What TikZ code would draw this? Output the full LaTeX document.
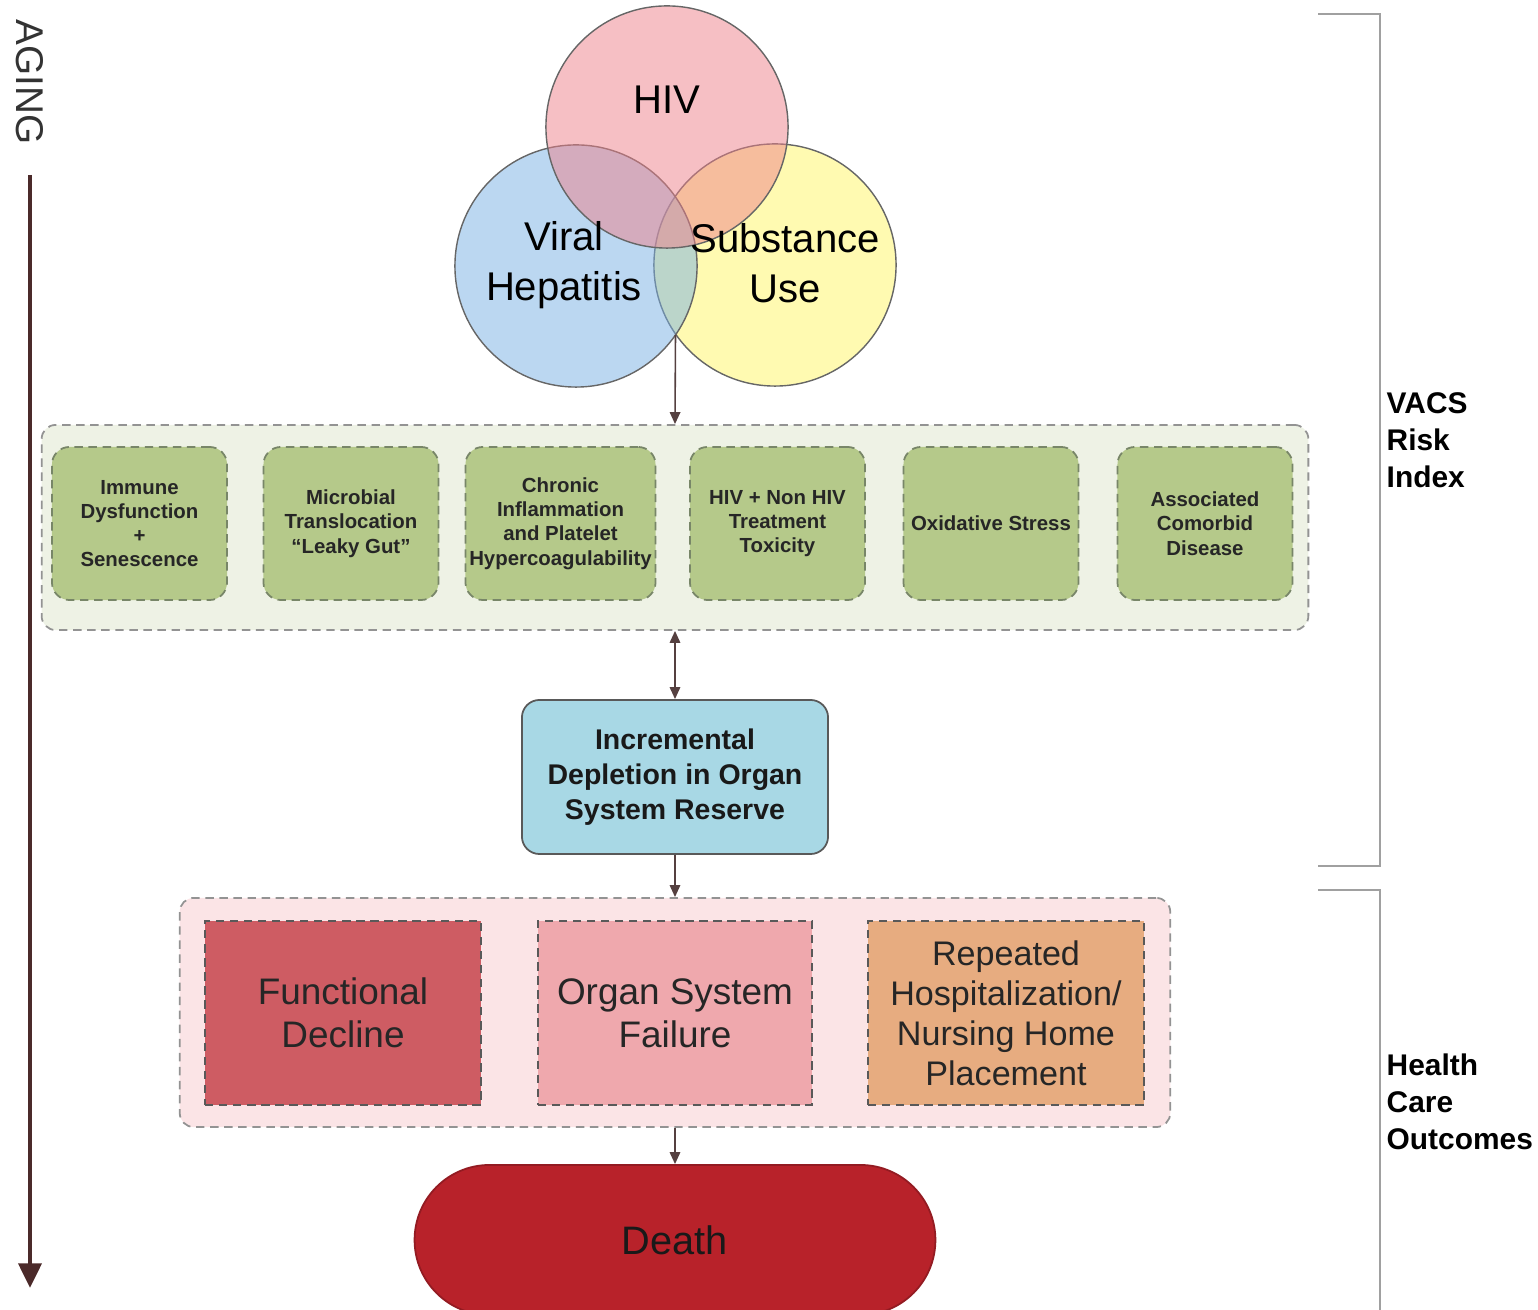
\documentclass[tikz,border=0pt]{standalone}
\usepackage{fontspec}
\setmainfont{Liberation Sans}
\usepackage{xcolor}
\usepackage{tikz}
\usetikzlibrary{arrows.meta, positioning, shapes.misc, calc}
\definecolor{hivc}{RGB}{238, 128, 138}
\definecolor{hepc}{RGB}{120, 176, 228}
\definecolor{subc}{RGB}{255, 246, 100}
\definecolor{factbg}{RGB}{238, 242, 229}
\definecolor{factc}{RGB}{181, 201, 138}
\definecolor{factline}{RGB}{120, 134, 104}
\definecolor{reservec}{RGB}{168, 216, 229}
\definecolor{outbg}{RGB}{251, 228, 230}
\definecolor{declinec}{RGB}{206, 92, 99}
\definecolor{failurec}{RGB}{239, 168, 173}
\definecolor{hospc}{RGB}{231, 172, 128}
\definecolor{deathc}{RGB}{184, 34, 42}
\definecolor{arrowc}{RGB}{85, 64, 64}
\definecolor{agec}{RGB}{75, 42, 42}
\definecolor{bracketc}{RGB}{160, 160, 160}

\begin{document}
\begin{tikzpicture}[x=0.01cm, y=-0.01cm,
    venn/.style={circle, minimum size=2.42cm, inner sep=0pt,
      draw=gray!80!black, line width=0.4pt, fill opacity=0.5},
    venntext/.style={font=\fontsize{11.4}{14.2}\selectfont, align=center},
    container/.style={draw=gray!85, dashed, dash pattern=on 2.4pt off 1.6pt,
      line width=0.5pt, rounded corners=4pt},
    factbox/.style={draw=factline, fill=factc, dashed, dash pattern=on 2.4pt off 1.6pt,
      line width=0.5pt, rounded corners=5pt, minimum width=1.75cm,
      minimum height=1.53cm, inner sep=1pt, align=center,
      font=\fontsize{5.8}{6.9}\selectfont\bfseries, text=black!85},
    outbox/.style={draw=gray!70!black, dashed, dash pattern=on 2.4pt off 1.6pt,
      line width=0.5pt, minimum width=2.76cm, minimum height=1.84cm,
      align=center, font=\fontsize{10.5}{12.2}\selectfont, text=black!85},
    flow/.style={draw=arrowc, line width=0.45pt,
      -{Triangle[length=3.4pt, width=3pt]}},
    sidetext/.style={anchor=west, align=left, inner sep=0pt,
      font=\fontsize{8.5}{10.5}\selectfont\bfseries}]
  \path[use as bounding box, clip] (0,0) rectangle (1538,1310);

  % Aging arrow
  \node[rotate=-90, font=\fontsize{11}{13}\selectfont, text=black!80]
    (aging) at (30,82) {AGING};
  \coordinate (agetop) at (30,175);
  \coordinate (agebot) at (30,1288);
  \draw[agec, line width=1.2pt, -{Triangle[length=7pt, width=6.5pt]}]
    (agetop) -- (agebot);

  % Venn diagram
  \node[venn, fill=subc] (sub) at (775,265) {};
  \node[venn, fill=hepc] (hep) at (576,266) {};
  \node[venn, fill=hivc] (hiv) at (667,127) {};
  \node[venntext] (hivtext) at (667,100) {HIV};
  \node[venntext] (heptext) at (564,265) {Viral\\Hepatitis};
  \node[venntext] (subtext) at (785,263) {Substance\\Use};
  \coordinate (venn) at (675.5,335);

  % Contributing factors
  \node[container, fill=factbg, minimum width=12.66cm, minimum height=2.05cm]
    (factors) at (675,527.5) {};
  \node[factbox] (immune) at (139.5,523.5) {Immune\\Dysfunction\\+\\Senescence};
  \node[factbox] (microbial) at (351,523.5) {Microbial\\Translocation\\``Leaky Gut''};
  \node[factbox, minimum width=1.9cm] (inflam) at (560.5,523.5)
    {Chronic\\Inflammation\\and Platelet\\Hypercoagulability};
  \node[factbox] (toxicity) at (777.5,523.5) {HIV + Non HIV\\Treatment\\Toxicity};
  \node[factbox] (oxidative) at (991,523.5) {Oxidative Stress};
  \node[factbox] (comorbid) at (1205,523.5) {Associated\\Comorbid\\Disease};

  % Organ system reserve
  \node[draw=gray!70!black, fill=reservec, line width=0.5pt, rounded corners=5pt,
    minimum width=3.06cm, minimum height=1.54cm, align=center,
    font=\fontsize{8.1}{9.9}\selectfont\bfseries, text=black!90]
    (reserve) at (675,777) {Incremental\\Depletion in Organ\\System Reserve};

  % Health care outcomes
  \node[container, fill=outbg, minimum width=9.9cm, minimum height=2.29cm]
    (outcomes) at (675,1012.5) {};
  \node[outbox, fill=declinec] (decline) at (343,1013) {Functional\\Decline};
  \node[outbox, fill=failurec, minimum width=2.74cm] (failure) at (675,1013)
    {Organ System\\Failure};
  \node[outbox, fill=hospc, font=\fontsize{9.7}{11.4}\selectfont] (hosp) at (1006,1013)
    {Repeated\\Hospitalization/\\Nursing Home\\Placement};

  % Death
  \node[rounded rectangle, draw=deathc!80!black, fill=deathc, line width=0.5pt,
    minimum width=5.44cm, minimum height=1.5cm,
    font=\fontsize{11.3}{13}\selectfont, text=black!90]
    (death) at (675,1240) {Death};

  % Connectors
  \draw[flow] (venn) -- (factors.north);
  \draw[flow, {Triangle[length=3.4pt, width=3pt]}-{Triangle[length=3.4pt, width=3pt]}]
    (factors.south) -- (reserve.north);
  \draw[flow] (reserve.south) -- (outcomes.north);
  \draw[flow] (outcomes.south) -- (death.north);

  % Brackets
  \draw[bracketc, line width=0.6pt] (1318,14) -| (1380,866) -- (1318,866);
  \draw[bracketc, line width=0.6pt] (1318,890) -| (1380,1320);
  \node[sidetext] (vacs) at (1386,440) {VACS\\Risk\\Index};
  \node[sidetext] (hco) at (1386,1102) {Health\\Care\\Outcomes};
\end{tikzpicture}
\end{document}
